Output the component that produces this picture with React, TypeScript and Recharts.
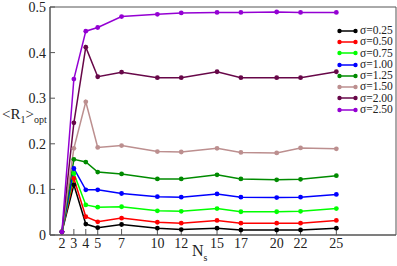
import { Line, LineChart, XAxis, YAxis, Label, ReferenceArea } from 'recharts';

const nsValues = [2, 3, 4, 5, 7, 10, 12, 15, 17, 20, 22, 25];
const yTicks = [0, 0.1, 0.2, 0.3, 0.4, 0.5];

const sigma025 = [0.007, 0.11, 0.024, 0.016, 0.023, 0.015, 0.012, 0.015, 0.011, 0.011, 0.011, 0.015];
const sigma050 = [0.007, 0.124, 0.04, 0.029, 0.037, 0.028, 0.026, 0.032, 0.026, 0.026, 0.026, 0.032];
const sigma075 = [0.007, 0.135, 0.066, 0.061, 0.062, 0.053, 0.052, 0.058, 0.051, 0.051, 0.052, 0.058];
const sigma100 = [0.007, 0.146, 0.099, 0.099, 0.091, 0.084, 0.083, 0.09, 0.083, 0.082, 0.083, 0.089];
const sigma125 = [0.007, 0.166, 0.16, 0.138, 0.134, 0.123, 0.123, 0.132, 0.123, 0.121, 0.122, 0.13];
const sigma150 = [0.007, 0.19, 0.292, 0.192, 0.196, 0.183, 0.182, 0.19, 0.181, 0.18, 0.191, 0.189];
const sigma200 = [0.007, 0.246, 0.412, 0.347, 0.357, 0.345, 0.345, 0.358, 0.345, 0.345, 0.345, 0.358];
const sigma250 = [0.007, 0.342, 0.447, 0.455, 0.479, 0.484, 0.487, 0.488, 0.488, 0.489, 0.488, 0.488];

const seriesLabels = ['σ=0.25', 'σ=0.50', 'σ=0.75', 'σ=1.00', 'σ=1.25', 'σ=1.50', 'σ=2.00', 'σ=2.50'];
const seriesValues = [sigma025, sigma050, sigma075, sigma100, sigma125, sigma150, sigma200, sigma250];
const seriesColors = ['#000000', '#ff0000', '#00ff00', '#0000ff', '#008b00', '#bc8f8f', '#670748', '#9400d3'];

const data = nsValues.map((ns, i) => {
  const row: Record<string, number> = { ns };
  seriesValues.forEach((vals, s) => {
    row['s' + s] = vals[i];
  });
  return row;
});

const font = '"Liberation Serif", serif';
const frame = '#555';

const YTitle = (props: any) => {
  const vb = props.viewBox;
  const y = vb.y + vb.height / 2 - 2;
  return (
    <text x={2} y={y} fontFamily={font} fontSize={15} fill="#222">
      {'<R'}
      <tspan fontSize={10} dy={4}>1</tspan>
      <tspan dy={-4}>{'>'}</tspan>
      <tspan fontSize={10} dy={4}>opt</tspan>
    </text>
  );
};

const XTitle = (props: any) => {
  const vb = props.viewBox;
  return (
    <text x={vb.x + 142} y={vb.y + 21} fontFamily={font} fontSize={16} fill="#222">
      N
      <tspan fontSize={10} dy={5}>s</tspan>
    </text>
  );
};

const LegendBox = () => (
  <div
    style={{
      position: 'absolute',
      left: 337,
      top: 25,
      fontFamily: font,
      fontSize: 11.5,
      lineHeight: '11.3px',
      color: '#222',
    }}
  >
    {seriesLabels.map((label, i) => (
      <div key={label} style={{ display: 'flex', alignItems: 'center', height: 11.3 }}>
        <svg width={21} height={8} style={{ marginRight: 2 }}>
          <line x1={2.5} y1={4} x2={18.5} y2={4} stroke={seriesColors[i]} strokeWidth={1.5} />
          <circle cx={2.5} cy={4} r={2.2} fill={seriesColors[i]} />
          <circle cx={18.5} cy={4} r={2.2} fill={seriesColors[i]} />
        </svg>
        <span>{label}</span>
      </div>
    ))}
  </div>
);

export default function App() {
  return (
    <div style={{ position: 'absolute', left: 0, top: 0, width: 397, height: 266, background: '#fff' }}>
      <LineChart width={397} height={266} data={data} margin={{ top: 7, right: 1, bottom: 0, left: 0 }}>
        <XAxis
          dataKey="ns"
          type="number"
          domain={[1, 30]}
          ticks={nsValues}
          interval={0}
          allowDataOverflow
          height={31}
          stroke={frame}
          tickSize={-6}
          tickMargin={9}
          tick={{ fontFamily: font, fontSize: 14, fill: '#222' }}
        >
          <Label content={XTitle} />
        </XAxis>
        <XAxis
          xAxisId="top"
          dataKey="ns"
          type="number"
          orientation="top"
          domain={[1, 30]}
          ticks={nsValues}
          interval={0}
          allowDataOverflow
          height={0}
          stroke={frame}
          tickSize={-6}
          tick={false}
        />
        <YAxis
          type="number"
          domain={[0, 0.5]}
          ticks={yTicks}
          interval={0}
          allowDataOverflow
          width={50}
          stroke={frame}
          tickSize={-5}
          tickMargin={9}
          tickFormatter={(v: number) => (v === 0 ? '0' : v.toFixed(1))}
          tick={{ fontFamily: font, fontSize: 14, fill: '#222' }}
        >
          <Label content={YTitle} />
        </YAxis>
        <YAxis
          yAxisId="right"
          orientation="right"
          type="number"
          domain={[0, 0.5]}
          ticks={yTicks}
          interval={0}
          allowDataOverflow
          width={0}
          stroke={frame}
          tickSize={-5}
          tick={false}
        />
        <ReferenceArea
          xAxisId="top"
          yAxisId="right"
          x1={1}
          x2={30}
          y1={0}
          y2={0.5}
          fill="none"
          stroke={frame}
          strokeWidth={1}
          ifOverflow="visible"
        />
        {seriesValues.map((_, s) => (
          <Line
            key={s}
            type="linear"
            dataKey={'s' + s}
            stroke={seriesColors[s]}
            strokeWidth={1.5}
            dot={{ r: 2.4, fill: seriesColors[s], stroke: seriesColors[s], strokeWidth: 0 }}
            isAnimationActive={false}
          />
        ))}
      </LineChart>
      <LegendBox />
    </div>
  );
}
